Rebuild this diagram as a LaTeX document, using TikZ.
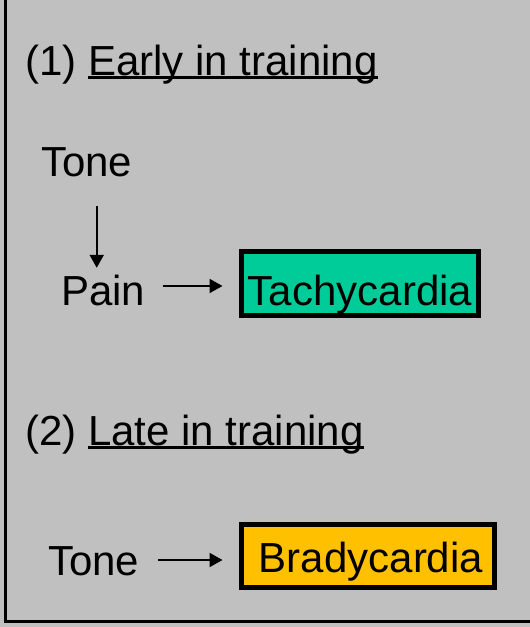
\documentclass[tikz,border=0pt]{standalone}
\usepackage{fontspec}
\setmainfont{Liberation Sans}
\usetikzlibrary{arrows.meta}
\definecolor{panelgray}{HTML}{C0C0C0}
\definecolor{tachygreen}{HTML}{00CC99}
\definecolor{bradyorange}{HTML}{FFC000}
\tikzset{
  lbl/.style={inner sep=0pt, anchor=base west, text height=30pt, text depth=9pt,
    font=\fontsize{42}{48}\selectfont},
  hrbox/.style={draw, line width=5pt, inner sep=0pt, font=\fontsize{42}{48}\selectfont},
  arr/.style={-{Triangle[length=13pt,width=14pt]}, line width=2pt},
  uline/.style={line width=2.5pt}
}
\begin{document}
\begin{tikzpicture}[x=1pt, y=-1pt]
    \clip (0,0) rectangle (530,627);
    \fill[panelgray] (0,0) rectangle (530,627);
    \draw[line width=3pt] (5.3,-10) -- (5.3,621.3) -- (540,621.3);
    % heading above, cut off by the frame
    \node[lbl] (figref) at (300,-9) {(Fig. 3.6)};
    % (1) early in training
    \node[lbl] (stage1) at (25,75) {(1)};
    \node[lbl] (early) at (88,75) {Early in training};
    \draw[uline] ([yshift=-2.5pt]early.base west) -- ([yshift=-2.5pt]early.base east);
    \node[lbl] (tone1) at (41,176) {Tone};
    \node[lbl] (pain) at (61,305) {Pain};
    \node[hrbox, fill=tachygreen, minimum width=237pt, minimum height=64pt,
      text height=53.5pt, text depth=10.5pt] (tachy) at (360,283.5) {Tachycardia};
    \draw[arr, shorten <=21pt, shorten >=7pt] ([xshift=10pt]tone1.south) -- ([xshift=10pt]tone1.south |- pain.north);
    \draw[arr] ([xshift=18pt,yshift=8.5pt]pain.east) -- ([xshift=-16.5pt,yshift=8.5pt]pain.east -| tachy.west);
    % (2) late in training
    \node[lbl] (stage2) at (25,445) {(2)};
    \node[lbl] (late) at (88,445) {Late in training};
    \draw[uline] ([yshift=-2.5pt]late.base west) -- ([yshift=-2.5pt]late.base east);
    \node[lbl] (tone2) at (48,575) {Tone};
    \node[hrbox, fill=bradyorange, minimum width=253pt, minimum height=63pt,
      text height=47.5pt, text depth=15.5pt] (brady) at (368,556) {\hspace{6pt}Bradycardia};
    \draw[arr] ([xshift=19pt,yshift=4.5pt]tone2.east) -- ([xshift=-16.5pt,yshift=4.5pt]tone2.east -| brady.west);
\end{tikzpicture}
\end{document}
